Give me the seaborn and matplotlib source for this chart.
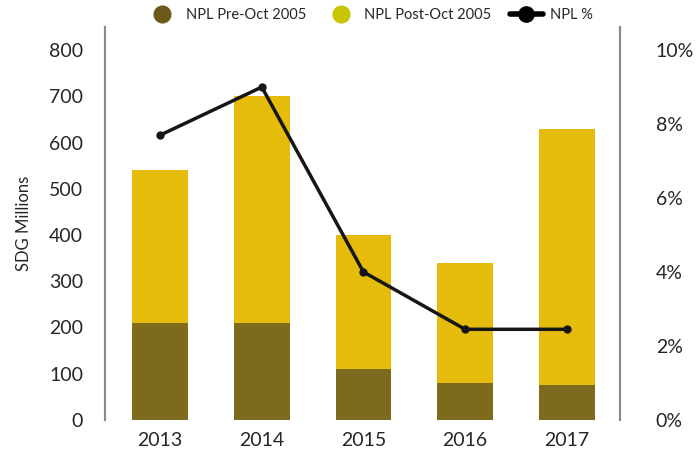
import seaborn as sns
import pandas as pd
import numpy as np
import matplotlib.pyplot as plt
from matplotlib.lines import Line2D

years = ['2013', '2014', '2015', '2016', '2017']
npl_pre = [210, 210, 110, 80, 75]
npl_post = [330, 490, 290, 260, 555]
npl_pct = [7.7, 9.0, 4.0, 2.45, 2.45]

df = pd.DataFrame({'Year': years, 'Pre': npl_pre, 'Post': npl_post, 'Pct': npl_pct})
df['Total'] = df['Pre'] + df['Post']

sns.set_style('white')
plt.rcParams['font.family'] = ['Lato', 'DejaVu Sans']

pre_col = '#7d6a1c'
post_col = '#e5bb0c'

fig = plt.figure(figsize=(6.97, 4.65), dpi=100)
ax = fig.add_axes([0.151, 0.097, 0.738, 0.845])
sns.barplot(data=df, x='Year', y='Total', color=post_col, width=0.55, saturation=1,
            linewidth=0, ax=ax)
sns.barplot(data=df, x='Year', y='Pre', color=pre_col, width=0.55, saturation=1,
            linewidth=0, ax=ax)
ax.set_xlim(-0.54, 4.52)
ax.set_ylim(0, 850)
ax.set_yticks(range(0, 801, 100))
ax.set_xlabel('')
ax.set_ylabel('SDG Millions', fontsize=12, labelpad=12)
ax.tick_params(axis='y', length=0, pad=16, labelsize=14)
ax.tick_params(axis='x', length=0, pad=9, labelsize=14)

ax2 = ax.twinx()
sns.lineplot(x=np.arange(len(years)), y=df['Pct'], color='#161616', linewidth=2.5,
             marker='o', markersize=6, markeredgewidth=0, ax=ax2)
ax2.set_ylim(0, 10.625)
ax2.set_yticks(range(0, 11, 2))
ax2.set_yticklabels([f'{v}%' for v in range(0, 11, 2)])
ax2.set_ylabel('')
ax2.tick_params(axis='y', length=0, pad=26, labelsize=14)

for a in (ax, ax2):
    a.spines['top'].set_visible(False)
    a.spines['bottom'].set_visible(False)
    a.spines['left'].set_color('#8a8a8a')
    a.spines['right'].set_color('#8a8a8a')
    a.spines['left'].set_linewidth(1.5)
    a.spines['right'].set_linewidth(1.5)

handles = [
    Line2D([], [], linestyle='none', marker='o', markersize=12, color='#6b5a1a'),
    Line2D([], [], linestyle='none', marker='o', markersize=12, color='#c8c400'),
    Line2D([], [], color='black', linewidth=4, marker='o', markersize=11),
]
labels = ['NPL Pre-Oct 2005', 'NPL Post-Oct 2005', 'NPL %']
fig.legend(handles, labels, loc='upper center', bbox_to_anchor=(0.53, 1.01), ncol=3,
           frameon=False, fontsize=10.5, handlelength=2.2, columnspacing=1.3,
           handletextpad=0.5)

fig.savefig('out.png', dpi=100)
